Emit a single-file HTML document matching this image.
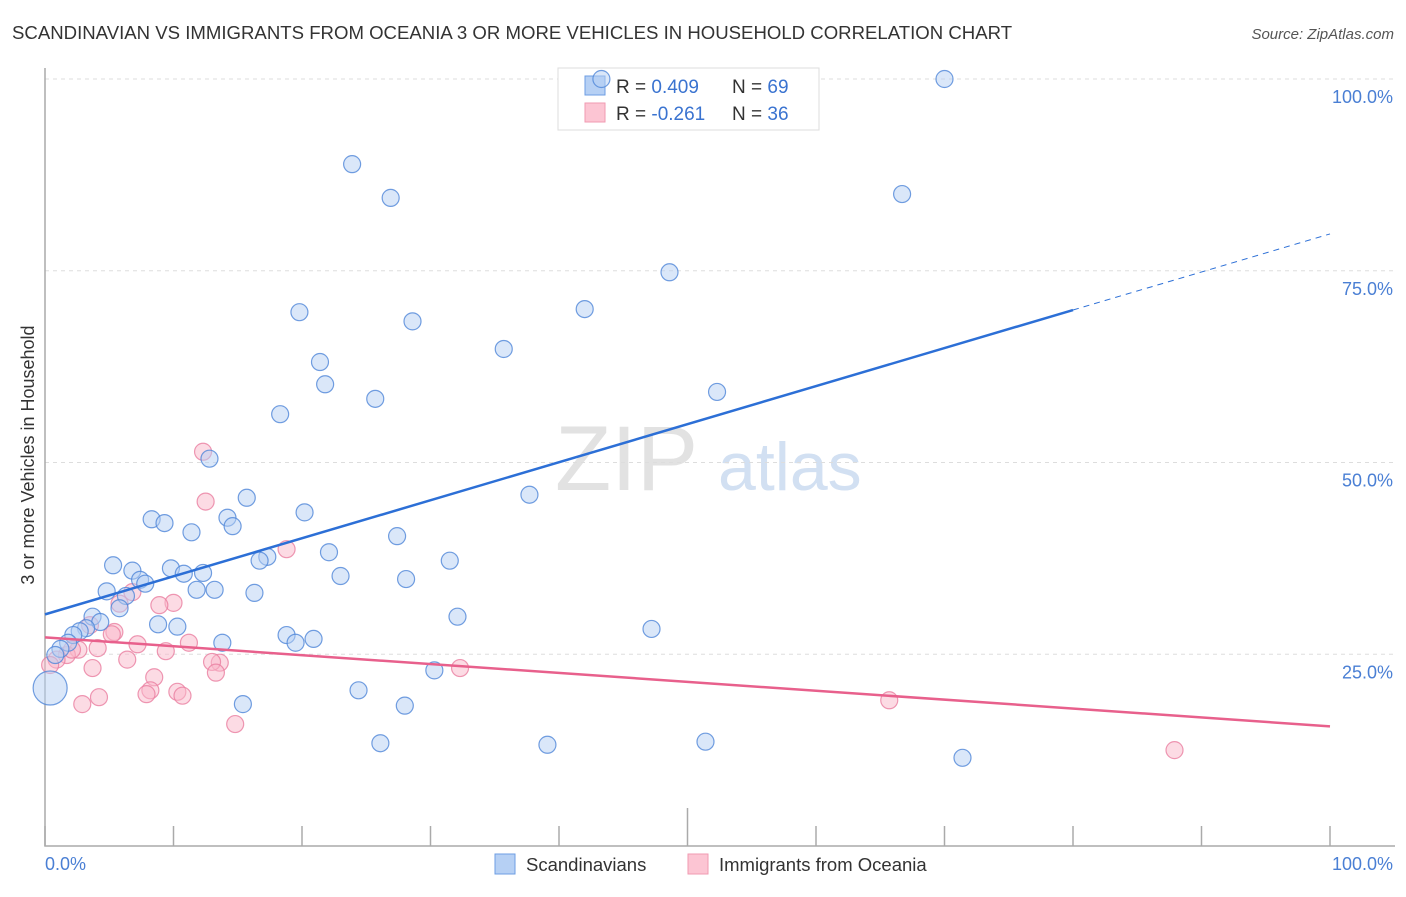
<!DOCTYPE html>
<html><head><meta charset="utf-8"><style>
body{margin:0;background:#fff;font-family:"Liberation Sans",sans-serif;}
svg text{font-family:"Liberation Sans",sans-serif;}
</style></head><body>
<svg id="chart" width="1406" height="892" xmlns="http://www.w3.org/2000/svg">
<text x="12" y="39" font-size="18.6" fill="#333">SCANDINAVIAN VS IMMIGRANTS FROM OCEANIA 3 OR MORE VEHICLES IN HOUSEHOLD CORRELATION CHART</text>
<text x="1394" y="39" font-size="15" fill="#555" text-anchor="end" font-style="italic">Source: ZipAtlas.com</text>
<g><text x="555" y="490" font-size="92" fill="#e2e2e2" font-family="Liberation Serif">ZIP</text><text x="718" y="490" font-size="68" fill="#d2e0f2">atlas</text></g>
<g id="grid"></g><g id="axes"></g>
<g>
<rect x="558" y="68" width="261" height="62" fill="#fff" stroke="#ddd"/>
<rect x="585" y="76" width="20" height="19" fill="#b6d0f4" stroke="#6d9ee3"/>
<rect x="585" y="103" width="20" height="19" fill="#fcc5d3" stroke="#f09ab2"/>
<text x="616" y="93" font-size="19" fill="#333">R = <tspan fill="#3a73d0">0.409</tspan></text>
<text x="732" y="93" font-size="19" fill="#333">N = <tspan fill="#3a73d0">69</tspan></text>
<text x="616" y="120" font-size="19" fill="#333">R = <tspan fill="#3a73d0">-0.261</tspan></text>
<text x="732" y="120" font-size="19" fill="#333">N = <tspan fill="#3a73d0">36</tspan></text>
</g>
<g id="pts"></g><g id="trends"></g>
<text transform="translate(34,455) rotate(-90)" font-size="18" fill="#333" text-anchor="middle">3 or more Vehicles in Household</text>
<text x="45" y="870" font-size="18" fill="#4a7fd4">0.0%</text>
<text x="1393" y="870" font-size="18" fill="#4a7fd4" text-anchor="end">100.0%</text>
<g>
<rect x="495" y="854" width="20" height="20" fill="#b6d0f4" stroke="#6d9ee3"/>
<text x="526" y="871" font-size="18.5" fill="#333">Scandinavians</text>
<rect x="688" y="854" width="20" height="20" fill="#fcc5d3" stroke="#f09ab2"/>
<text x="719" y="871" font-size="18.5" fill="#333">Immigrants from Oceania</text>
</g>
</svg>
<script>
const yTicks=[25,50,75,100];
const yTickLabels=["25.0%","50.0%","75.0%","100.0%"];
const xTicks=[0,10,20,30,40,50,60,70,80,90,100];
const blueX=[43.3,70.0,23.9,26.9,66.7,48.6,19.8,42.0,28.6,21.4,35.7,21.8,25.7,52.3,18.3,12.8,37.7,15.7,20.2,8.3,9.3,14.2,14.6,11.4,27.4,17.3,16.7,22.1,31.5,5.3,6.8,9.8,7.4,7.8,10.8,12.3,23.0,28.1,4.8,11.8,13.2,16.3,6.3,5.8,32.1,3.7,8.8,10.3,4.3,3.2,2.7,2.2,47.2,18.8,20.9,19.5,13.8,1.8,1.2,0.8,30.3,24.4,15.4,28.0,0.4,26.1,39.1,51.4,71.4];
const blueY=[100.0,100.0,88.9,84.5,85.0,74.8,69.6,70.0,68.4,63.1,64.8,60.2,58.3,59.2,56.3,50.5,45.8,45.4,43.5,42.6,42.1,42.8,41.7,40.9,40.4,37.7,37.2,38.3,37.2,36.6,35.9,36.2,34.7,34.2,35.5,35.6,35.2,34.8,33.2,33.4,33.4,33.0,32.6,31.0,29.9,29.9,28.9,28.6,29.2,28.4,28.0,27.5,28.3,27.5,27.0,26.5,26.5,26.5,25.7,24.9,22.9,20.3,18.5,18.3,20.6,13.4,13.2,13.6,11.5];
const pinkX=[12.3,12.5,18.8,10.0,8.9,6.8,5.8,5.4,5.2,3.5,2.6,1.7,4.1,0.9,11.2,7.2,9.4,6.4,13.6,13.0,13.3,3.7,8.5,32.3,8.2,7.9,10.3,10.7,4.2,2.9,14.8,65.7,87.9,2.1,0.4];
const pinkY=[51.4,44.9,38.7,31.7,31.4,33.1,31.6,27.9,27.6,28.8,25.6,24.9,25.8,24.3,26.5,26.3,25.4,24.3,23.9,24.0,22.6,23.2,22.0,23.2,20.3,19.8,20.1,19.6,19.4,18.5,15.9,19.0,12.5,25.6,23.6];
const blueTrend=[30.2,79.8]; const blueSolidEnd=80;
const pinkTrend=[27.2,15.6];
const X=v=>45+12.85*v, Y=v=>846-7.67*v;
const NS="http://www.w3.org/2000/svg";
function mk(p,t,a){const e=document.createElementNS(NS,t);for(const k in a)e.setAttribute(k,a[k]);document.getElementById(p).appendChild(e);return e;}
yTicks.forEach((t,i)=>{
 const l=mk('grid','line',{x1:45,x2:1395,y1:Y(t),y2:Y(t),stroke:'#ddd','stroke-dasharray':'4,4'});
 
 
 const tx=mk('grid','text',{x:1393,y:Y(t)+24,'font-size':18,fill:'#4a7fd4','text-anchor':'end'});
 tx.textContent=yTickLabels[i];
 
 
});
const ax=mk('axes','path',{d:'M45 68 V846 H1395',fill:'none',stroke:'#aaa','stroke-width':1.5});


xTicks.forEach(t=>{
 const l=mk('axes','line',{x1:X(t),x2:X(t),y1:t==50?808:826,y2:846,stroke:'#aaa','stroke-width':1.5});
 
 
});
function dots(xs,ys,fill,stroke,name){xs.forEach((x,i)=>{
 const c=mk('pts','circle',{cx:X(x),cy:Y(ys[i]),r:(x==0.4&&ys[i]==20.6)?17:8.5,fill:fill,'fill-opacity':0.5,stroke:stroke,'stroke-opacity':0.8,'stroke-width':1.2});
 
 
});}
dots(pinkX,pinkY,'#f9b8ca','#ea7ea0','point-oceania');
dots(blueX,blueY,'#b6d0f4','#4f86d8','point-scandinavian');
const bAt=v=>blueTrend[0]+(blueTrend[1]-blueTrend[0])*v/100;
const b1=mk('trends','line',{x1:X(0),y1:Y(bAt(0)),x2:X(blueSolidEnd),y2:Y(bAt(blueSolidEnd)),stroke:'#2c6fd6','stroke-width':2.5});


const b2=mk('trends','line',{x1:X(blueSolidEnd),y1:Y(bAt(blueSolidEnd)),x2:X(100),y2:Y(bAt(100)),stroke:'#2c6fd6','stroke-width':1,'stroke-dasharray':'6,5'});


const p1=mk('trends','line',{x1:X(0),y1:Y(pinkTrend[0]),x2:X(100),y2:Y(pinkTrend[1]),stroke:'#e8608c','stroke-width':2.5});


</script>
</body></html>
